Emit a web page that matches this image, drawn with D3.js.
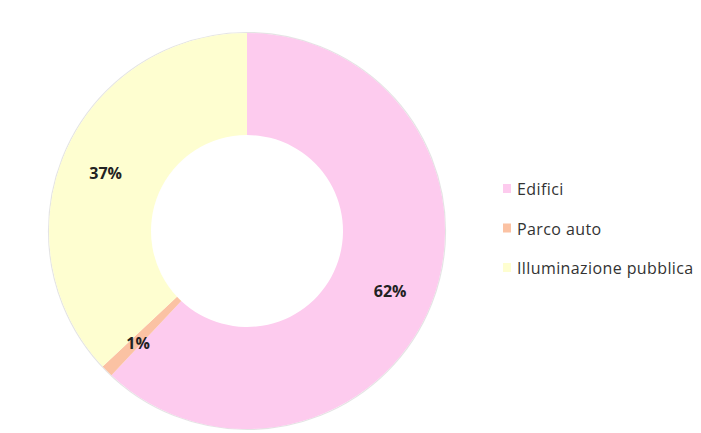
<!DOCTYPE html>
<html>
<head>
<meta charset="utf-8">
<script src="https://cdn.jsdelivr.net/npm/d3@7"></script>
<style>
  html, body { margin: 0; padding: 0; background: #fff; }
  svg { display: block; }
</style>
</head>
<body>
<svg id="chart" width="701" height="433"></svg>
<script>
// Energy consumption share by sector
const categories = ["Edifici", "Parco auto", "Illuminazione pubblica"];
const values = [62, 1, 37];
const colors = ["#fdcbee", "#fbc2a3", "#fefed0"];

const width = 701, height = 433;
const cx = 247, cy = 231;
const outerR = 198, innerR = 96;

const svg = d3.select("#chart");

const pie = d3.pie().sort(null).value(d => d)(values);
const arc = d3.arc().innerRadius(innerR).outerRadius(outerR);
const labelArc = d3.arc().innerRadius(154).outerRadius(154);

const g = svg.append("g").attr("transform", `translate(${cx},${cy})`);

// faint outline around the ring
g.append("circle")
  .attr("r", outerR + 0.5)
  .attr("fill", "none")
  .attr("stroke", "#d8d8d8")
  .attr("stroke-width", 1.2)
  .attr("opacity", 0.7);

g.selectAll("path.slice")
  .data(pie)
  .join("path")
  .attr("class", "slice")
  .attr("d", arc)
  .attr("fill", (d, i) => colors[i]);

const total = d3.sum(values);
g.selectAll("text.pct")
  .data(pie)
  .join("text")
  .attr("class", "pct")
  .attr("transform", d => {
    const [x, y] = labelArc.centroid(d);
    return `translate(${x},${y + 3})`;
  })
  .attr("text-anchor", "middle")
  .attr("dominant-baseline", "central")
  .attr("font-family", "'Open Sans', 'DejaVu Sans', sans-serif")
  .attr("font-weight", "bold")
  .attr("font-size", 16)
  .attr("fill", "#222")
  .text(d => Math.round(d.data / total * 100) + "%");

// legend
const legend = svg.append("g").attr("transform", "translate(503,189)");
const item = legend.selectAll("g.item")
  .data(categories)
  .join("g")
  .attr("class", "item")
  .attr("transform", (d, i) => `translate(0,${i * 39.5})`);

item.append("rect")
  .attr("x", 0).attr("y", -5)
  .attr("width", 8).attr("height", 9)
  .attr("fill", (d, i) => colors[i]);

item.append("text")
  .attr("x", 14)
  .attr("y", 0)
  .attr("dominant-baseline", "central")
  .attr("font-family", "'Open Sans', 'DejaVu Sans', sans-serif")
  .attr("font-size", 16)
  .attr("letter-spacing", 0.4)
  .attr("fill", "#333")
  .text(d => d);
</script>
</body>
</html>
